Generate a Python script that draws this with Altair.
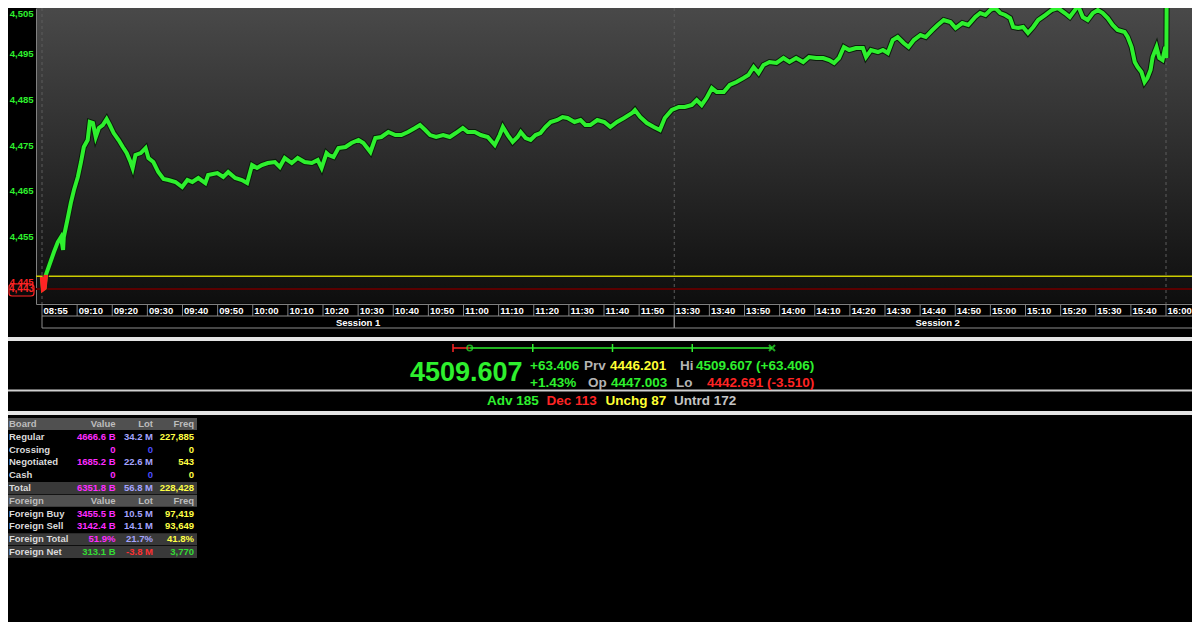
import pandas as pd
import altair as alt

# ---------------- data ----------------
minute = [0.0, 0.3, 0.7, 1.1, 2.6, 3.4, 4.5, 5.4, 6.0, 6.2,
          7.4, 8.2, 9.1, 10.2, 11.1, 11.9, 13.0, 13.6, 14.5, 15.3,
          16.2, 17.3, 18.4, 19.3, 20.4, 21.8, 23.0, 24.1, 25.2, 25.8,
          26.6, 28.1, 29.5, 30.3, 31.7, 33.1, 34.6, 36.0, 38.0, 39.9,
          41.4, 42.8, 44.5, 46.5, 47.3, 49.9, 51.6, 53.0, 55.0, 56.9,
          58.4, 59.8, 61.2, 62.6, 64.3, 66.3, 67.7, 69.1, 71.1, 72.8,
          74.8, 76.8, 78.5, 79.6, 81.0, 81.6, 83.0, 84.4, 86.4, 88.1,
          90.1, 91.5, 93.5, 94.9, 96.6, 98.6, 100.6, 102.3, 104.2, 106.2,
          107.6, 109.1, 110.5, 112.2, 114.2, 116.1, 117.8, 119.8, 121.2, 123.2,
          124.9, 126.9, 128.9, 130.3, 131.2, 132.6, 134.0, 135.4, 136.3, 137.7,
          139.1, 140.5, 141.9, 143.3, 144.8, 146.7, 148.2, 149.6, 151.6, 153.3,
          154.7, 156.1, 158.1, 160.1, 161.8, 163.7, 165.7, 168.0, 168.8, 170.3,
          172.2, 174.2, 175.9, 177.3, 179.3, 181.3, 183.0, 185.0, 186.4, 187.8,
          189.2, 190.7, 192.1, 194.1, 195.8, 197.7, 199.7, 201.1, 202.6, 204.0,
          205.4, 207.1, 209.1, 211.1, 212.8, 214.7, 216.7, 218.4, 220.4, 222.4,
          224.1, 225.5, 226.9, 228.3, 229.8, 231.7, 233.7, 234.6, 236.0, 238.0,
          239.4, 240.8, 242.2, 243.6, 245.3, 246.7, 248.2, 250.1, 251.6, 253.5,
          255.0, 256.7, 258.6, 260.1, 262.0, 263.7, 265.7, 267.1, 268.6, 270.0,
          271.4, 272.8, 274.2, 275.6, 276.5, 277.9, 279.3, 280.7, 282.2, 283.6,
          285.6, 287.5, 289.2, 291.2, 292.6, 294.1, 294.9, 296.3, 297.7, 299.2,
          300.6, 302.0, 303.4, 304.8, 306.2, 308.2, 309.1, 310.2, 311.1, 311.9,
          313.0, 313.9, 314.7, 315.6, 316.2, 317.3, 318.1, 319.0, 319.8, 320.1,
          320.2]
index_value = [4446.03, 4443.40, 4443.62, 4446.50, 4449.76, 4451.52, 4453.71, 4454.81, 4451.96, 4454.81,
               4459.20, 4462.27, 4465.12, 4467.98, 4471.27, 4474.56, 4476.10, 4480.05, 4479.83, 4476.76,
               4478.73, 4479.39, 4480.71, 4479.39, 4477.63, 4476.10, 4474.56, 4473.24, 4471.27, 4469.95,
               4472.81, 4473.24, 4474.34, 4472.15, 4471.27, 4469.07, 4467.54, 4467.32, 4466.88, 4465.78,
               4467.32, 4466.88, 4467.76, 4466.66, 4468.42, 4468.85, 4467.98, 4469.07, 4467.76, 4467.32,
               4466.66, 4470.61, 4469.95, 4470.61, 4471.05, 4471.27, 4470.17, 4472.15, 4471.05, 4472.15,
               4471.27, 4471.05, 4471.71, 4469.95, 4473.24, 4472.81, 4472.37, 4474.34, 4474.56, 4475.44,
               4476.10, 4475.44, 4473.46, 4476.54, 4476.76, 4477.85, 4477.19, 4477.19, 4477.85, 4478.73,
               4479.39, 4478.29, 4477.19, 4476.76, 4477.19, 4476.76, 4477.63, 4478.73, 4477.85, 4477.85,
               4477.19, 4476.76, 4475.00, 4477.19, 4478.95, 4477.19, 4475.66, 4476.76, 4477.85, 4476.54,
               4476.10, 4477.19, 4477.63, 4478.95, 4480.05, 4480.49, 4481.15, 4480.93, 4480.05, 4480.49,
               4479.39, 4479.39, 4480.49, 4480.05, 4478.95, 4480.05, 4480.93, 4482.02, 4482.68, 4481.15,
               4479.83, 4478.95, 4478.29, 4480.93, 4482.68, 4483.34, 4483.34, 4483.78, 4484.88, 4483.78,
               4485.32, 4487.51, 4486.63, 4486.63, 4488.17, 4488.83, 4489.70, 4490.36, 4492.12, 4490.80,
               4492.56, 4493.22, 4493.00, 4494.09, 4493.22, 4494.09, 4493.22, 4494.31, 4494.09, 4494.09,
               4493.65, 4493.00, 4494.09, 4496.51, 4495.85, 4496.29, 4496.29, 4494.31, 4495.85, 4495.41,
               4495.85, 4495.19, 4498.04, 4498.70, 4497.39, 4496.51, 4498.04, 4499.14, 4498.70, 4500.24,
               4501.34, 4502.43, 4501.99, 4500.68, 4501.77, 4501.34, 4503.09, 4503.97, 4503.53, 4504.63,
               4505.07, 4503.97, 4503.53, 4502.87, 4500.90, 4500.68, 4500.90, 4499.58, 4500.90, 4502.43,
               4503.53, 4504.63, 4505.07, 4503.97, 4503.09, 4504.63, 4505.72, 4503.09, 4502.43, 4503.97,
               4504.63, 4503.97, 4502.87, 4501.34, 4500.24, 4499.80, 4498.70, 4496.51, 4493.22, 4492.12,
               4491.02, 4488.83, 4489.70, 4491.46, 4494.31, 4496.51, 4494.09, 4493.65, 4496.51, 4494.09,
               4509.607]

time_labels = ["08:55", "09:10", "09:20", "09:30", "09:40", "09:50", "10:00", "10:10", "10:20",
               "10:30", "10:40", "10:50", "11:00", "11:10", "11:20", "11:30", "11:40", "11:50",
               "13:30", "13:40", "13:50", "14:00", "14:10", "14:20", "14:30", "14:40", "14:50",
               "15:00", "15:10", "15:20", "15:30", "15:40", "16:00"]
tick_minutes = [10 * i for i in range(len(time_labels))]
y_ticks = [4445, 4455, 4465, 4475, 4485, 4495, 4505]

session_names = ["Session 1", "Session 2"]
session_start = [0, 180]
session_end = [180, 330]
session_marks = [0, 180, 320]

prev_close = 4446.201
open_price = 4447.003
high_price = 4509.607
low_price = 4442.691
last_price = 4509.607
net_change = 63.406
pct_change = 1.43
chart_low = 4443.4
range_quarters = [4459.42, 4476.15, 4492.88]
adv, dec, unchg, untrd = 185, 113, 87, 172

table_rows = ["Board", "Regular", "Crossing", "Negotiated", "Cash", "Total",
              "Foreign", "Foreign Buy", "Foreign Sell", "Foreign Total", "Foreign Net"]
table_value = ["Value", "4666.6 B", "0", "1685.2 B", "0", "6351.8 B",
               "Value", "3455.5 B", "3142.4 B", "51.9%", "313.1 B"]
table_lot = ["Lot", "34.2 M", "0", "22.6 M", "0", "56.8 M",
             "Lot", "10.5 M", "14.1 M", "21.7%", "-3.8 M"]
table_freq = ["Freq", "227,885", "0", "543", "0", "228,428",
              "Freq", "97,419", "93,649", "41.8%", "3,770"]

# ---------------- style ----------------
FONT = "Liberation Sans"
GREEN = "#2ef02e"
RED = "#ff2424"
YELLOW = "#ffff33"
GRAY = "#b4b4b4"
W, H = 1156, 296

one = pd.DataFrame({"k": [0]})
line_df = pd.DataFrame({"minute": minute, "value": index_value})
tick_df = pd.DataFrame({"m": tick_minutes, "label": time_labels})

xs = alt.Scale(domain=[-1.71, 327.4], nice=False, zero=False)
ys = alt.Scale(domain=[4440.11, 4505.07], nice=False, zero=False)

x_axis = alt.Axis(title=None, grid=False, labels=False, ticks=False, domainColor="#808080")
y_axis = alt.Axis(values=y_ticks, format=",d", title=None, grid=False, ticks=False,
                  domainColor="#808080",
                  labelColor={"condition": {"test": f"datum.value < {prev_close}", "value": RED},
                              "value": GREEN},
                  labelFont=FONT, labelFontWeight="bold", labelFontSize=9.5,
                  labelPadding=3, labelFlush=True)

bg = alt.Chart(one).mark_rect(
    color=alt.LinearGradient(gradient="linear",
                             stops=[alt.GradientStop(color="#494949", offset=0),
                                    alt.GradientStop(color="#2c2c2c", offset=0.5),
                                    alt.GradientStop(color="#0e0e0e", offset=1)],
                             x1=0, x2=0, y1=0, y2=1)
).encode(x=alt.value(1), x2=alt.value(W), y=alt.value(0), y2=alt.value(H - 0.5))

vrules = alt.Chart(pd.DataFrame({"m": session_marks})).mark_rule(
    color="#5c5c5c", strokeDash=[3, 3], strokeWidth=1
).encode(x=alt.X("m:Q", scale=xs, title=None))

prev_rule = alt.Chart(one).mark_rule(color="#cccc00", strokeWidth=1.5).encode(y=alt.datum(prev_close))
low_rule = alt.Chart(one).mark_rule(color="#5a0000", strokeWidth=2).encode(y=alt.datum(chart_low))

line_outline = alt.Chart(line_df).mark_line(color="#0b1d0b", strokeWidth=6, clip=True).encode(
    x=alt.X("minute:Q", scale=xs, axis=x_axis), y=alt.Y("value:Q", scale=ys, axis=y_axis))
line = alt.Chart(line_df).mark_line(color=GREEN, strokeWidth=4, clip=True).encode(
    x=alt.X("minute:Q", scale=xs, axis=x_axis), y=alt.Y("value:Q", scale=ys, axis=y_axis))
red_start = alt.Chart(line_df).transform_filter(alt.datum.minute <= 1.1).mark_line(
    color=RED, strokeWidth=4.5, clip=True
).encode(x=alt.X("minute:Q", title=None), y=alt.Y("value:Q", title=None))

low_box = alt.Chart(one).mark_rect(fill="#0a0a0a", stroke=RED, strokeWidth=1.2, cornerRadius=3).encode(
    x=alt.value(-27), x2=alt.value(-2), y=alt.value(276), y2=alt.value(288))
low_text = alt.Chart(one).mark_text(color=RED, font=FONT, fontWeight="bold", fontSize=10,
                                    align="center", baseline="middle").encode(
    x=alt.value(-14.5), y=alt.datum(chart_low), text=alt.value(f"{chart_low:,.0f}"))

# custom time axis: one boxed label per tick
tick_sep = alt.Chart(tick_df).mark_rule(color="#808080", strokeWidth=1).encode(
    x=alt.X("m:Q", title=None), y=alt.value(296), y2=alt.value(308))
tick_lab = alt.Chart(tick_df).mark_text(
    color="white", font=FONT, fontWeight="bold", fontSize=9.5, align="left", baseline="middle", dx=1.5
).encode(x=alt.X("m:Q", title=None), y=alt.value(302.5), text="label:N")

sess_df = pd.DataFrame({"name": session_names, "start": session_start, "end": session_end})
sess_rect = alt.Chart(sess_df).mark_rect(fillOpacity=0, stroke="#8c8c8c", strokeWidth=1).encode(
    x=alt.X("start:Q", title=None), x2="end:Q", y=alt.value(308), y2=alt.value(320))
sess_text = alt.Chart(sess_df).transform_calculate(mid="(datum.start + datum.end) / 2").mark_text(
    color="white", font=FONT, fontWeight="bold", fontSize=9.5, baseline="middle"
).encode(x=alt.X("mid:Q", title=None), y=alt.value(314.5), text="name:N")

main = alt.layer(bg, vrules, prev_rule, low_rule, line_outline, line, red_start,
                 low_box, low_text, tick_sep, tick_lab, sess_rect, sess_text)

# ---------------- day range bar ----------------
rb_scale = alt.Scale(domain=[low_price, high_price], range=[417, 736], nice=False, zero=False)
part_color = alt.Color("part:N", scale=alt.Scale(domain=["below", "above"], range=[RED, GREEN]), legend=None)
seg_df = pd.DataFrame({"a": [low_price, prev_close], "b": [prev_close, high_price], "part": ["below", "above"]})
rtick_df = pd.DataFrame({"v": [low_price] + range_quarters, "part": ["below", "above", "above", "above"]})
rb_line = alt.Chart(seg_df).mark_rule(strokeWidth=1.5).encode(
    x=alt.X("a:Q", scale=rb_scale, axis=None), x2="b:Q", y=alt.value(340), color=part_color)
rb_ticks = alt.Chart(rtick_df).mark_rule(strokeWidth=1.5).encode(
    x=alt.X("v:Q", scale=rb_scale, axis=None), y=alt.value(336), y2=alt.value(344), color=part_color)
rb_open = alt.Chart(pd.DataFrame({"v": [prev_close]})).mark_point(
    shape="circle", filled=False, color=GREEN, size=30, strokeWidth=1.5
).encode(x=alt.X("v:Q", scale=rb_scale, axis=None), y=alt.value(340))
rb_last = alt.Chart(pd.DataFrame({"v": [last_price]})).mark_point(
    shape="M-1,-1L1,1M-1,1L1,-1", filled=False, color=GREEN, size=36, strokeWidth=2
).encode(x=alt.X("v:Q", scale=rb_scale, axis=None), y=alt.value(340))
rangebar = alt.layer(rb_line, rb_ticks, rb_open, rb_last)

# ---------------- info panel ----------------
def band(y, w, c):
    return alt.Chart(one).mark_rule(color=c, strokeWidth=w).encode(
        x=alt.value(-36), x2=alt.value(W), y=alt.value(y))

chg_txt = f"{net_change:+.3f}"
info_items = [
    (f"{last_price:.3f}", GREEN, 27, 374, 373),
    (chg_txt, GREEN, 13.5, 494, 362),
    (f"{pct_change:+.2f}%", GREEN, 13.5, 494, 378.5),
    ("Prv", GRAY, 13.5, 548, 362),
    (f"{prev_close:.3f}", YELLOW, 13.5, 574, 362),
    ("Op", GRAY, 13.5, 552, 378.5),
    (f"{open_price:.3f}", GREEN, 13.5, 575, 378.5),
    ("Hi", GRAY, 13.5, 644, 362),
    (f"{high_price:.3f} ({chg_txt})", GREEN, 13.5, 660, 362),
    ("Lo", GRAY, 13.5, 640, 378.5),
    (f"{low_price:.3f} ({low_price - prev_close:+.3f})", RED, 13.5, 671, 378.5),
    (f"Adv {adv}", GREEN, 13.5, 451, 397),
    (f"Dec {dec}", RED, 13.5, 510.5, 397),
    (f"Unchg {unchg}", YELLOW, 13.5, 569.5, 397),
    (f"Untrd {untrd}", "#c4c4c4", 13.5, 638, 397),
]
info_layers = [band(331, 4, "#e4e4e4"), band(382.5, 2, "#d0d0d0"), band(405, 4, "#e4e4e4")]
for txt, col, size, x, y in info_items:
    info_layers.append(alt.Chart(one).mark_text(
        text=txt, color=col, fontSize=size, font=FONT, fontWeight="bold",
        align="left", baseline="alphabetic").encode(x=alt.value(x), y=alt.value(y)))
info = alt.layer(*info_layers)

# ---------------- board table ----------------
head_rows = ["Board", "Foreign"]
sum_rows = ["Total", "Foreign Total", "Foreign Net"]
recs = []
for i, r in enumerate(table_rows):
    for col, arr in [("label", table_rows), ("value", table_value), ("lot", table_lot), ("freq", table_freq)]:
        t = arr[i]
        if r in head_rows:
            kind = "head"
        elif col == "label":
            kind = "label"
        elif r == "Foreign Net":
            kind = "neg" if t.startswith("-") else "pos"
        elif col == "lot":
            kind = "lotzero" if t == "0" else "lot"
        else:
            kind = col
        recs.append({"row": r, "col": col, "text": t, "kind": kind})
cell_df = pd.DataFrame(recs)
rows_df = pd.DataFrame({"row": table_rows})

tab_y = alt.Y("row:N", scale=alt.Scale(domain=table_rows, range=[410, 550], paddingInner=0.07, paddingOuter=0),
              axis=None, title=None)
kind_color = alt.Color("kind:N", legend=None, scale=alt.Scale(
    domain=["head", "label", "value", "lot", "lotzero", "freq", "pos", "neg"],
    range=["#bdbdbd", "#dadada", "#ff2cff", "#a4a4ff", "#4c4cff", "#ffff44", "#33dd33", "#ff3030"]))

rect_head = alt.Chart(rows_df).transform_filter(
    alt.FieldOneOfPredicate(field="row", oneOf=head_rows)).mark_rect(color="#505050").encode(
    x=alt.value(-34), x2=alt.value(161), y=tab_y)
rect_sum = alt.Chart(rows_df).transform_filter(
    alt.FieldOneOfPredicate(field="row", oneOf=sum_rows)).mark_rect(color="#393939").encode(
    x=alt.value(-34), x2=alt.value(161), y=tab_y)

table_layers = [rect_head, rect_sum]
for col, xpos, al in [("label", -27, "left"), ("value", 79.5, "right"), ("lot", 117, "right"), ("freq", 158, "right")]:
    table_layers.append(alt.Chart(cell_df).transform_filter(alt.datum.col == col).mark_text(
        font=FONT, fontWeight="bold", fontSize=9.5, align=al, baseline="middle").encode(
        x=alt.value(xpos), y=tab_y, text="text:N", color=kind_color))
table = alt.layer(*table_layers)

chart = alt.layer(main, rangebar, info, table).resolve_scale(
    x="independent", y="independent", color="independent"
).properties(
    width=W, height=H, background="black",
    padding={"left": 28, "top": 0, "right": 0, "bottom": 318},
    autosize=alt.AutoSizeParams(type="none"),
).configure_view(stroke=None)

chart.save("out.html", embed_options={"renderer": "svg", "actions": False})
